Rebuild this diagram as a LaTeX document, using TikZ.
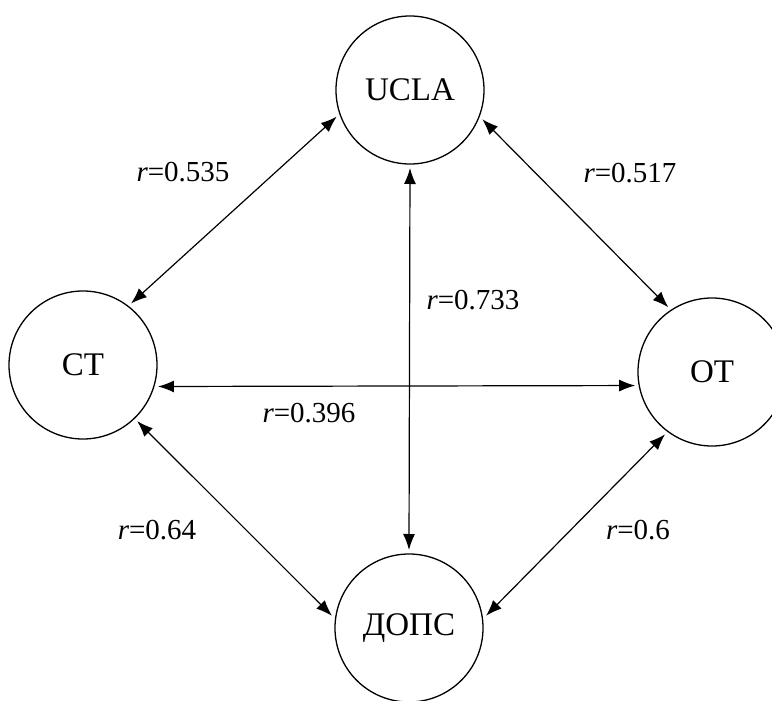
\documentclass[tikz,border=0pt]{standalone}
\usepackage{fontspec}
\setmainfont{Liberation Serif}
\usetikzlibrary{arrows.meta}
\begin{document}
\begin{tikzpicture}[x=1pt,y=-1pt,
  var/.style={circle,draw,line width=1.3pt,minimum size=148pt,inner sep=0pt,outer sep=4pt,font=\fontsize{33}{36}\selectfont},
  corr/.style={line width=1.2pt,{Latex[length=16pt,width=12pt]}-{Latex[length=16pt,width=12pt]}},
  lab/.style={font=\fontsize{29}{32}\selectfont,inner sep=0pt}]
\useasboundingbox (0,0) rectangle (772,701);
\node[var] (ucla) at (410,90) {UCLA};
\node[var] (ct) at (83,365) {CT};
\node[var] (ot) at (712,372) {OT};
\node[var] (dops) at (409,628) {ДОПС};
\draw[corr] (ucla.200) -- (ct.52);
\draw[corr] (ucla.338) -- (ot.124);
\draw[corr] (ucla.270) -- (dops.90);
\draw[corr] (ct.-16) -- (ot.190);
\draw[corr] (ct.-46.5) -- (dops.171);
\draw[corr] (ot.233) -- (dops.9);
\node[lab] (l1) at (183,172) {\textit{r}=0.535};
\node[lab] (l2) at (630,173) {\textit{r}=0.517};
\node[lab] (l3) at (473,300) {\textit{r}=0.733};
\node[lab] (l4) at (309,413) {\textit{r}=0.396};
\node[lab] (l5) at (157,530) {\textit{r}=0.64};
\node[lab] (l6) at (638,530) {\textit{r}=0.6};
\end{tikzpicture}
\end{document}
